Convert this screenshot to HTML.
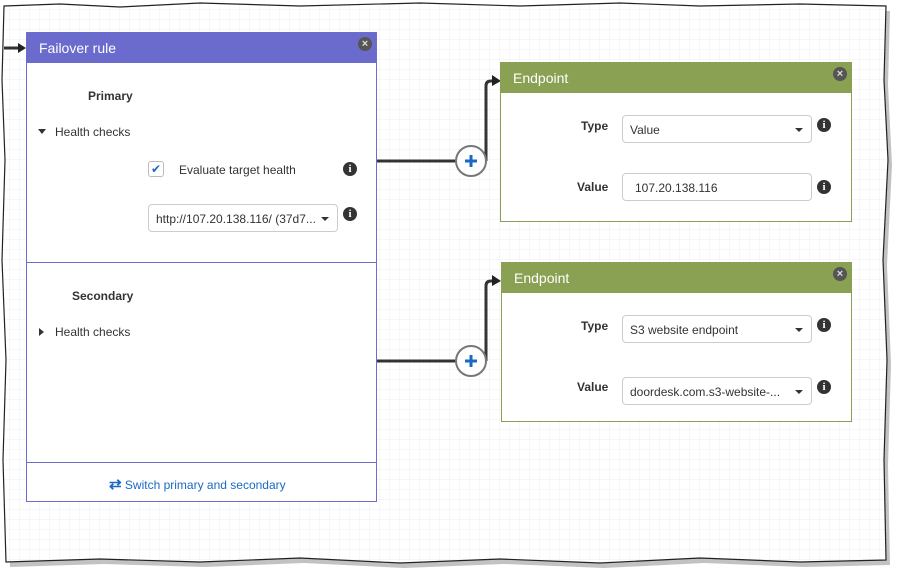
<!DOCTYPE html>
<html><head><style>
*{margin:0;padding:0;box-sizing:border-box}
body{width:901px;height:580px;background:#fff;position:relative;overflow:hidden;font-family:"Liberation Sans",sans-serif;font-size:12px;color:#333}
.a{position:absolute}
.box{position:absolute;background:#fff;border:1px solid #6b6ccc}
.hdr{position:absolute;left:0;right:0;top:0;height:30px;color:#fff;font-size:14px;padding:7px 0 0 12px}
.x{position:absolute;right:4px;top:4px;width:14px;height:14px;border-radius:50%;background:#555;color:#ddd;font-size:11px;line-height:14px;text-align:center;font-weight:bold}
.lbl{position:absolute;font-weight:bold;font-size:12px;color:#333}
.sel{position:absolute;border:1px solid #ccc;border-radius:4px;background:#fff;height:28px;padding:7px 0 0 7px;font-size:12px;color:#333;white-space:nowrap;overflow:hidden}
.car{position:absolute;right:8px;top:12px;border-left:4px solid transparent;border-right:4px solid transparent;border-top:4px solid #333}
.i{position:absolute;width:14px;height:14px;border-radius:50%;background:#333;color:#fff;font-size:11px;line-height:14px;text-align:center;font-weight:bold;font-family:"Liberation Serif",serif}
</style></head><body>
<svg class="a" style="left:0;top:0" width="901" height="580">
<defs><pattern id="g" width="10" height="10" patternUnits="userSpaceOnUse"><path d="M10 0V10H0" fill="none" stroke="#efefef" stroke-width="1"/></pattern></defs>
<polygon points="4,6 60,4 120,7 200,3 300,6 420,3 520,6 620,3 700,6 800,4 886,6 884,80 888,160 883,260 887,360 884,460 886,560 800,562 700,558 600,563 500,559 400,563 300,558 200,562 100,559 6,562 3,460 6,360 2,260 5,160 2,80" fill="#999" opacity="0.6" transform="translate(4,5)"/>
<polygon points="4,6 60,4 120,7 200,3 300,6 420,3 520,6 620,3 700,6 800,4 886,6 884,80 888,160 883,260 887,360 884,460 886,560 800,562 700,558 600,563 500,559 400,563 300,558 200,562 100,559 6,562 3,460 6,360 2,260 5,160 2,80" fill="#fff"/>
<polygon points="4,6 60,4 120,7 200,3 300,6 420,3 520,6 620,3 700,6 800,4 886,6 884,80 888,160 883,260 887,360 884,460 886,560 800,562 700,558 600,563 500,559 400,563 300,558 200,562 100,559 6,562 3,460 6,360 2,260 5,160 2,80" fill="url(#g)" stroke="#222" stroke-width="1.2"/>
<g stroke="#333" stroke-width="3" fill="none">
<path d="M4 48H20"/>
<path d="M376 161H456"/><path d="M486 161V86Q486 81 491 81H494"/>
<path d="M376 361H456"/><path d="M486 361V286Q486 281 491 281H494"/>
</g>
<polygon points="18,43 26,48 18,53" fill="#222"/>
<polygon points="492,75 501,81 492,86" fill="#222"/>
<polygon points="492,275 501,281 492,286" fill="#222"/>
<circle cx="471" cy="161" r="15" fill="#fff" stroke="#777" stroke-width="2"/>
<circle cx="471" cy="361" r="15" fill="#fff" stroke="#777" stroke-width="2"/>
<g stroke="#1a6ac4" stroke-width="3"><path d="M465 161H477M471 155V167"/><path d="M465 361H477M471 355V367"/></g>
</svg>

<div class="box" style="left:26px;top:32px;width:351px;height:470px">
 <div class="hdr" style="background:#6a6bcc;height:30px">Failover rule</div>
 <div class="x">×</div>
 <div class="lbl" style="left:61px;top:56px">Primary</div>
 <div class="a" style="left:11px;top:96px;border-left:4px solid transparent;border-right:4px solid transparent;border-top:5px solid #333"></div>
 <div class="a" style="left:28px;top:92px">Health checks</div>
 <div class="a" style="left:121px;top:128px;width:16px;height:16px;border:1px solid #bbb;border-radius:3px;color:#1a6ac4;font-size:12px;line-height:14px;text-align:center">✔</div>
 <div class="a" style="left:152px;top:130px">Evaluate target health</div>
 <div class="i" style="left:316px;top:129px">i</div>
 <div class="sel" style="left:121px;top:171px;width:190px">http://107.20.138.116/ (37d7...<div class="car"></div></div>
 <div class="i" style="left:316px;top:174px">i</div>
 <div class="a" style="left:0;right:0;top:229px;border-top:1px solid #6b6ccc"></div>
 <div class="lbl" style="left:45px;top:256px">Secondary</div>
 <div class="a" style="left:12px;top:295px;border-top:4px solid transparent;border-bottom:4px solid transparent;border-left:5px solid #333"></div>
 <div class="a" style="left:28px;top:292px">Health checks</div>
 <div class="a" style="left:0;right:0;top:429px;border-top:1px solid #6b6ccc"></div>
 <div class="a" style="left:82px;top:442px;color:#1a6ac4;font-size:12px"><span style="font-weight:bold;font-size:15px">⇄</span> Switch primary and secondary</div>
</div>

<div class="box" style="left:500px;top:62px;width:352px;height:160px;border-color:#8aa052">
 <div class="hdr" style="background:#8aa052">Endpoint</div>
 <div class="x">×</div>
 <div class="lbl" style="left:80px;top:56px">Type</div>
 <div class="sel" style="left:121px;top:52px;width:190px">Value<div class="car"></div></div>
 <div class="i" style="left:316px;top:55px">i</div>
 <div class="lbl" style="left:76px;top:117px">Value</div>
 <div class="sel" style="left:121px;top:110px;width:190px;padding-left:12px">107.20.138.116</div>
 <div class="i" style="left:316px;top:117px">i</div>
</div>

<div class="box" style="left:501px;top:262px;width:351px;height:160px;border-color:#8aa052">
 <div class="hdr" style="background:#8aa052">Endpoint</div>
 <div class="x">×</div>
 <div class="lbl" style="left:79px;top:56px">Type</div>
 <div class="sel" style="left:120px;top:52px;width:190px">S3 website endpoint<div class="car"></div></div>
 <div class="i" style="left:315px;top:55px">i</div>
 <div class="lbl" style="left:75px;top:117px">Value</div>
 <div class="sel" style="left:120px;top:114px;width:190px">doordesk.com.s3-website-...<div class="car"></div></div>
 <div class="i" style="left:315px;top:117px">i</div>
</div>
</body></html>
